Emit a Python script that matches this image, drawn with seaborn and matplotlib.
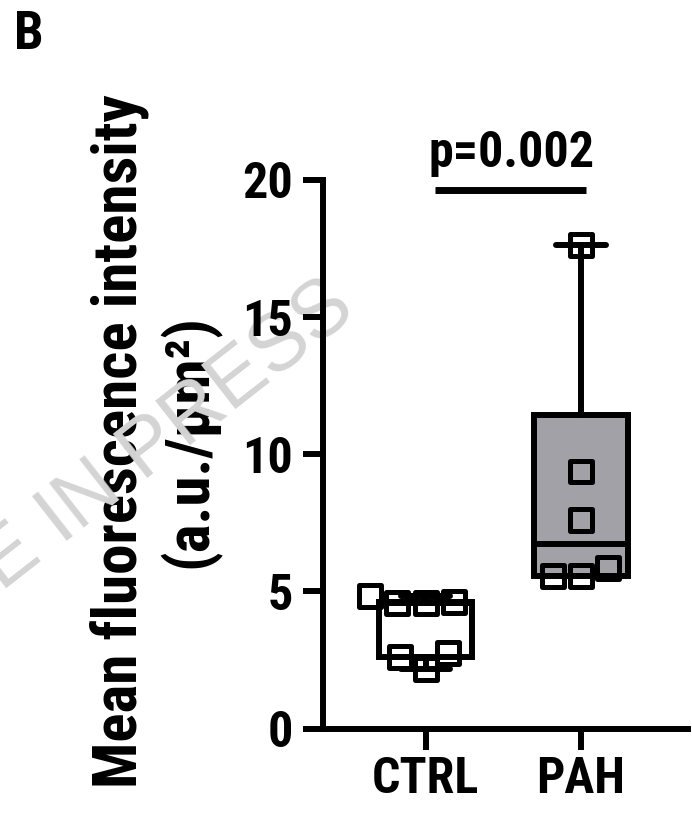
import numpy as np
import pandas as pd
import matplotlib
matplotlib.use("Agg")
import matplotlib.pyplot as plt
import seaborn as sns

# ---- data ----
categories = ["CTRL", "PAH"]
ctrl_values = [4.58, 4.83, 4.60, 4.56, 2.75, 2.62, 2.17]
pah_values = [17.63, 9.37, 7.60, 5.84, 5.55, 5.55]
y_ticks = [0, 5, 10, 15, 20]
p_label = "p=0.002"
y_label = "Mean fluorescence intensity\n(a.u./μm²)"
panel_label = "B"
watermark = "ARTICLE IN PRESS"

FONT = ["Roboto Condensed", "PT Sans Narrow", "DejaVu Sans"]

sns.set_theme(style="ticks")
plt.rcParams["font.family"] = FONT
plt.rcParams["font.weight"] = "bold"
plt.rcParams["axes.labelweight"] = "bold"

df = pd.DataFrame({
    "group": ["CTRL"] * len(ctrl_values) + ["PAH"] * len(pah_values),
    "value": ctrl_values + pah_values,
})

W, H = 692, 814
fig = plt.figure(figsize=(W / 100, H / 100), dpi=100)
fig.patch.set_facecolor("white")
ax = fig.add_axes([322.5 / W, 1 - 728.5 / H, (688 - 322.5) / W, (728.5 - 180) / H])
ax.patch.set_alpha(0)
ax.set_zorder(5)

lw = 4.3
# boxes (min-to-max whiskers, quartiles as in GraphPad)
stats = []
for name, vals in zip(categories, [ctrl_values, pah_values]):
    v = np.asarray(vals)
    q1, med, q3 = np.percentile(v, [25, 50, 75], method="weibull")
    stats.append(dict(label=name, whislo=v.min(), q1=q1, med=med, q3=q3,
                      whishi=v.max(), fliers=[]))
bp = ax.bxp(stats, positions=[0, 1], widths=0.6, capwidths=0.32,
            patch_artist=True, showfliers=False, manage_ticks=False,
            boxprops=dict(linewidth=lw, edgecolor="black"),
            medianprops=dict(color="black", linewidth=lw, solid_capstyle="butt"),
            whiskerprops=dict(color="black", linewidth=lw),
            capprops=dict(color="black", linewidth=lw),
            zorder=2)
for patch, fc in zip(bp["boxes"], ["white", "#a2a1a7"]):
    patch.set_facecolor(fc)
    patch.set_joinstyle("miter")

ax.set_xlim(-0.663, 1.689)
ax.set_ylim(0, 20)

sns.swarmplot(data=df, x="group", y="value", order=categories, ax=ax,
              marker="s", size=15.8, color="black", edgecolor="black",
              linewidth=3.6, facecolor="none", zorder=3)
for coll in ax.collections:
    coll.set_facecolor("none")
    coll.set_clip_on(False)

ax.set_xlim(-0.663, 1.689)
ax.set_ylim(0, 20)
ax.set_xlabel("")
ax.set_ylabel("")
ax.set_yticks(y_ticks)
ax.set_xticks([0, 1])
ax.set_xticklabels(categories)

sns.despine(ax=ax)
for s in ["left", "bottom"]:
    ax.spines[s].set_linewidth(lw)
    ax.spines[s].set_color("black")
ax.tick_params(axis="both", which="major", direction="out", width=lw,
               colors="black", labelsize=36)
ax.tick_params(axis="y", length=14.4, pad=7)
ax.tick_params(axis="x", length=15, pad=5)
for t in ax.get_xticklabels() + ax.get_yticklabels():
    t.set_fontweight("bold")
    t.set_family(FONT)

# significance bracket
top = max(pah_values)
ax.plot([0 + 0.06, 1 + 0.03], [top + 2.0, top + 2.0], color="black", lw=5,
        clip_on=False, solid_capstyle="butt")
ax.text(0.555, top + 2.85, p_label, ha="center", va="baseline", fontsize=36,
        fontweight="bold", color="black", clip_on=False, family=FONT)

# y label
fig.text(155 / W, 1 - 441 / H, y_label, rotation=90, ha="center", va="center",
         multialignment="center", fontsize=44, fontweight="bold",
         linespacing=1.18, color="black", family=FONT, zorder=3)

# panel label
fig.text(14 / W, 1 - 49 / H, panel_label, ha="left", va="baseline",
         fontsize=38, fontweight="bold", color="black", family=FONT)

# watermark (over the label, under the axes)
fig.text(358 / W, 1 - 314 / H, watermark, rotation=38, rotation_mode="anchor",
         ha="right", va="baseline", fontsize=58, color="#d4d4d4",
         fontweight="normal", family=["Liberation Sans", "DejaVu Sans"],
         zorder=4)

fig.savefig("out.png", dpi=100)
